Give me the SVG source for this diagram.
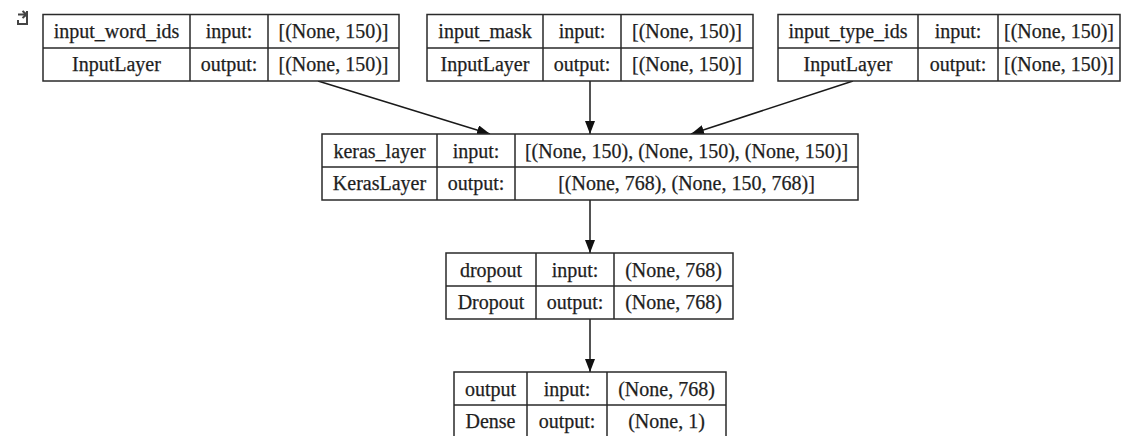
<svg xmlns="http://www.w3.org/2000/svg" width="1123" height="436" viewBox="0 0 1123 436">
<defs>
<style>
.cell{fill:#fff;stroke:#2a2a2a;stroke-width:1.5}
.t{font-family:"Liberation Serif","Times New Roman",serif;font-size:20px;fill:#1e1e1e;stroke:#1e1e1e;stroke-width:0.25;text-anchor:middle}
.edge{stroke:#1a1a1a;stroke-width:1.5;fill:none}
</style>
<marker id="ah" markerUnits="userSpaceOnUse" markerWidth="13" markerHeight="10" refX="13" refY="5" orient="auto">
<path d="M0,0 L13,5 L0,10 z" fill="#111"/>
</marker>
</defs>
<rect width="1123" height="436" fill="#fff"/>
<g id="icon" stroke="#444" stroke-width="2" fill="none">
<path d="M18,14.5 H26 M22.5,11 L26.5,14.5 L22.5,18"/>
<path d="M18,20 V24 H27 V11"/>
</g>
<g id="connectors">
<path class="edge" d="M318,81 L490,134" marker-end="url(#ah)"/>
<path class="edge" d="M590,81 L590,134" marker-end="url(#ah)"/>
<path class="edge" d="M853,81 L691,134" marker-end="url(#ah)"/>
<path class="edge" d="M590,200 L590,253" marker-end="url(#ah)"/>
<path class="edge" d="M590,319 L590,372" marker-end="url(#ah)"/>
</g>
<g id="input_word_ids">
<rect class="cell" x="43" y="14.5" width="356" height="66.5"/>
<path class="cell" d="M43,48 H399 M190,14.5 V81 M268,14.5 V81"/>
<text class="t" x="116.5" y="38">input_word_ids</text>
<text class="t" x="229" y="38">input:</text>
<text class="t" x="333.5" y="38">[(None, 150)]</text>
<text class="t" x="116.5" y="71">InputLayer</text>
<text class="t" x="229" y="71">output:</text>
<text class="t" x="333.5" y="71">[(None, 150)]</text>
</g>
<g id="input_mask">
<rect class="cell" x="427" y="14.5" width="326" height="66.5"/>
<path class="cell" d="M427,48 H753 M543,14.5 V81 M621,14.5 V81"/>
<text class="t" x="485" y="38">input_mask</text>
<text class="t" x="582" y="38">input:</text>
<text class="t" x="687" y="38">[(None, 150)]</text>
<text class="t" x="485" y="71">InputLayer</text>
<text class="t" x="582" y="71">output:</text>
<text class="t" x="687" y="71">[(None, 150)]</text>
</g>
<g id="input_type_ids">
<rect class="cell" x="778" y="14.5" width="342" height="66.5"/>
<path class="cell" d="M778,48 H1120 M918,14.5 V81 M998,14.5 V81"/>
<text class="t" x="848" y="38">input_type_ids</text>
<text class="t" x="958" y="38">input:</text>
<text class="t" x="1059" y="38">[(None, 150)]</text>
<text class="t" x="848" y="71">InputLayer</text>
<text class="t" x="958" y="71">output:</text>
<text class="t" x="1059" y="71">[(None, 150)]</text>
</g>
<g id="keras_layer">
<rect class="cell" x="322" y="134" width="536" height="66"/>
<path class="cell" d="M322,167 H858 M437,134 V200 M515,134 V200"/>
<text class="t" x="379.5" y="157.5">keras_layer</text>
<text class="t" x="476" y="157.5">input:</text>
<text class="t" x="686.5" y="157.5">[(None, 150), (None, 150), (None, 150)]</text>
<text class="t" x="379.5" y="190">KerasLayer</text>
<text class="t" x="476" y="190">output:</text>
<text class="t" x="686.5" y="190">[(None, 768), (None, 150, 768)]</text>
</g>
<g id="dropout">
<rect class="cell" x="446" y="253" width="287" height="66"/>
<path class="cell" d="M446,286 H733 M536,253 V319 M614,253 V319"/>
<text class="t" x="491" y="276.5">dropout</text>
<text class="t" x="575" y="276.5">input:</text>
<text class="t" x="673.5" y="276.5">(None, 768)</text>
<text class="t" x="491" y="309">Dropout</text>
<text class="t" x="575" y="309">output:</text>
<text class="t" x="673.5" y="309">(None, 768)</text>
</g>
<g id="output">
<rect class="cell" x="454" y="372" width="272" height="66"/>
<path class="cell" d="M454,405 H726 M527,372 V438 M607,372 V438"/>
<text class="t" x="490.5" y="395.5">output</text>
<text class="t" x="567" y="395.5">input:</text>
<text class="t" x="666.5" y="395.5">(None, 768)</text>
<text class="t" x="490.5" y="428">Dense</text>
<text class="t" x="567" y="428">output:</text>
<text class="t" x="666.5" y="428">(None, 1)</text>
</g>
</svg>
